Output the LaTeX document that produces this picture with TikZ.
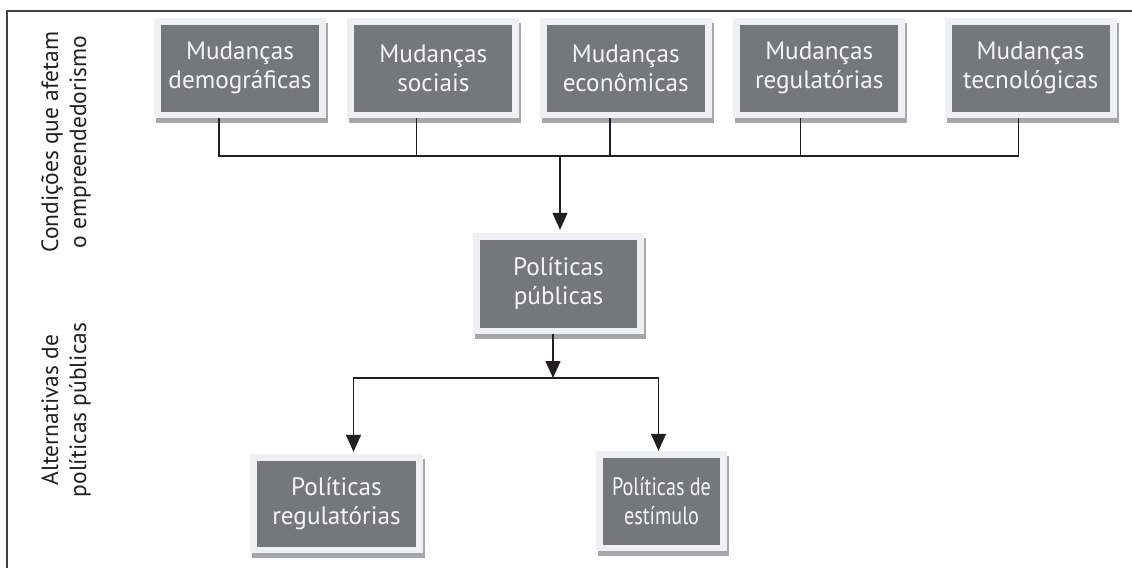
\documentclass[tikz,border=0pt]{standalone}
\usepackage{fontspec}
\setmainfont{PT Sans}
\usetikzlibrary{positioning,shadows,arrows.meta}

\definecolor{boxgray}{RGB}{118,119,123}
\definecolor{rimgray}{RGB}{238,240,243}
\definecolor{shadegray}{RGB}{166,167,171}
\definecolor{linegray}{RGB}{35,31,32}

\tikzset{
  box/.style={rectangle, fill=rimgray, minimum width=172pt, minimum height=100pt,
    inner sep=0pt, align=center, text=white!96!black, font=\fontsize{25.2}{29}\selectfont,
    drop shadow={shadow xshift=2pt, shadow yshift=-5pt, fill=shadegray, opacity=1},
    path picture={\fill[boxgray] ([shift={(7pt,6pt)}]path picture bounding box.south west)
      rectangle ([shift={(-7pt,-7pt)}]path picture bounding box.north east);}},
  side/.style={rotate=90, align=center, text=linegray, font=\fontsize{23.5}{28}\selectfont},
  link/.style={draw=linegray, line width=1.4pt},
  frame/.style={draw=linegray!85, line width=1.2pt}
}
\newcommand{\narrow}[1]{\scalebox{0.8}[1]{#1}}

\begin{document}
\begin{tikzpicture}[x=1pt,y=-1pt,>={Triangle[width=15pt,length=17pt]}]
    \useasboundingbox (0,0) rectangle (1132,568);

    % 外框
    \draw[frame] (1132,11) -| (7,568);

    % 侧边标题
    \node[side] (cond) at (66,142) {Condições que afetam\\o empreendedorismo};
    \node[side] (alt)  at (66,410) {Alternativas de\\políticas públicas};

    % 上层节点
    \node[box]                      (demo) at (240,68) {Mudanças\\demográficas};
    \node[box, right=21pt of demo]  (soc)  {Mudanças\\sociais};
    \node[box, right=20pt of soc]   (eco)  {Mudanças\\econômicas};
    \node[box, right=21pt of eco]   (reg)  {Mudanças\\regulatórias};
    \node[box, right=39pt of reg]   (tec)  {Mudanças\\tecnológicas};

    % 中间与下层节点
    \node[box, minimum width=171pt, minimum height=101pt] (pub)  at (558.5,283.5) {Políticas\\públicas};
    \node[box, minimum width=173pt, minimum height=99pt]  (preg) at (336.5,503.5) {Políticas\\regulatórias};
    \node[box, minimum width=131pt] (pest) at (661.5,501) {\narrow{Políticas de}\\\narrow{estímulo}};

    \coordinate (bus)   at (560,156);
    \coordinate (split) at (553,378);

    % 连线
    \draw[link] ([xshift=-21pt]demo.south) |- ([xshift=-12pt]tec.south |- bus) -- ([xshift=-12pt]tec.south);
    \foreach \n/\dx in {soc/-17pt, eco/-16pt, reg/-19pt}
        \draw[link] ([xshift=\dx]\n.south) -- ([xshift=\dx]\n.south |- bus);
    \draw[link, ->, shorten >=3pt] (bus) -- (bus |- pub.north);
    \draw[link, ->] ([xshift=-5.5pt]pub.south) -- (split);
    \draw[link, <->, shorten <=2pt] ([xshift=17pt]preg.north) |- (split) -| ([xshift=-3pt]pest.north);

\end{tikzpicture}
\end{document}
